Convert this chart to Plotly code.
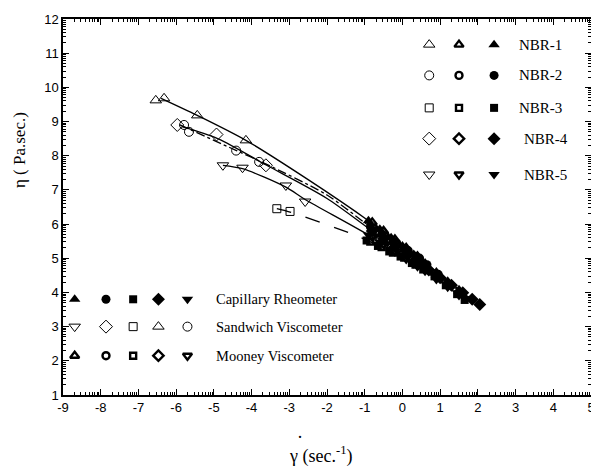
import math
import plotly.graph_objects as go

# ---------------- data (log shear rate, viscosity) ----------------
grades = ["NBR-1", "NBR-2", "NBR-3", "NBR-4", "NBR-5"]
symbols = ["triangle-up", "circle", "square", "diamond", "triangle-down"]

# Sandwich viscometer (open markers)
sand_x = {
    "NBR-1": [-6.54, -6.32, -5.44, -4.15],
    "NBR-2": [-5.79, -5.66, -4.41, -3.80],
    "NBR-3": [-3.33, -2.98],
    "NBR-4": [-5.97, -4.93, -3.62],
    "NBR-5": [-4.76, -4.24, -3.09, -2.58],
}
sand_y = {
    "NBR-1": [9.62, 9.68, 9.18, 8.45],
    "NBR-2": [8.90, 8.70, 8.15, 7.82],
    "NBR-3": [6.45, 6.37],
    "NBR-4": [8.90, 8.62, 7.72],
    "NBR-5": [7.72, 7.65, 7.13, 6.66],
}

# Mooney viscometer (bold open markers)
moon_x = {
    "NBR-1": [-0.80, -0.50, -0.20, 0.10, 0.40],
    "NBR-2": [-0.75, -0.45, -0.15, 0.15, 0.45],
    "NBR-3": [-0.85, -0.55, -0.25, 0.05, 0.35],
    "NBR-4": [-0.70, -0.40, -0.10, 0.20, 0.50],
    "NBR-5": [-0.80, -0.50, -0.20, 0.10, 0.40],
}
moon_y = {
    "NBR-1": [6.05, 5.80, 5.55, 5.30, 5.05],
    "NBR-2": [5.87, 5.65, 5.43, 5.22, 5.00],
    "NBR-3": [5.49, 5.33, 5.17, 5.02, 4.82],
    "NBR-4": [5.75, 5.52, 5.30, 5.07, 4.84],
    "NBR-5": [5.63, 5.42, 5.21, 4.99, 4.78],
}

# Capillary rheometer (filled markers)
cap_x = {
    "NBR-1": [-0.90, -0.60, -0.30, 0.00, 0.30, 0.60, 0.90, 1.20, 1.50],
    "NBR-2": [-0.85, -0.55, -0.25, 0.05, 0.35, 0.65, 0.95, 1.25, 1.55],
    "NBR-3": [-0.95, -0.65, -0.35, -0.05, 0.25, 0.55, 0.85, 1.15, 1.45, 1.65],
    "NBR-4": [-0.80, -0.50, -0.20, 0.10, 0.40, 0.70, 1.00, 1.30, 1.60, 1.85, 2.05],
    "NBR-5": [-0.90, -0.60, -0.30, 0.00, 0.30, 0.60, 0.90, 1.20, 1.50],
}
cap_y = {
    "NBR-1": [6.10, 5.85, 5.60, 5.36, 5.11, 4.86, 4.60, 4.33, 4.08],
    "NBR-2": [5.92, 5.70, 5.49, 5.27, 5.06, 4.81, 4.53, 4.24, 3.96],
    "NBR-3": [5.52, 5.36, 5.20, 5.05, 4.86, 4.67, 4.47, 4.21, 3.95, 3.78],
    "NBR-4": [5.80, 5.57, 5.34, 5.12, 4.88, 4.66, 4.43, 4.21, 3.99, 3.80, 3.65],
    "NBR-5": [5.68, 5.47, 5.26, 5.05, 4.84, 4.62, 4.38, 4.15, 3.91],
}

# Fitted curves
fit_x = {
    "NBR-1": [-6.40, -5.44, -4.15, -2.50, -0.90, 0.50, 1.60],
    "NBR-2": [-5.90, -4.40, -3.70, -2.00, -0.85, 0.50, 1.70],
    "NBR-3": [-3.33, -2.98, -1.20, 0.00, 0.75, 1.65],
    "NBR-4": [-5.85, -4.90, -3.60, -2.00, -0.80, 0.60, 2.05],
    "NBR-5": [-4.76, -4.24, -3.09, -2.58, -0.90, 0.50, 1.70],
}
fit_y = {
    "NBR-1": [9.68, 9.18, 8.45, 7.30, 6.10, 4.95, 4.00],
    "NBR-2": [8.90, 8.15, 7.80, 6.85, 5.92, 4.95, 3.82],
    "NBR-3": [6.45, 6.35, 5.65, 5.02, 4.55, 3.78],
    "NBR-4": [8.85, 8.50, 7.72, 6.75, 5.80, 4.73, 3.65],
    "NBR-5": [7.72, 7.62, 7.08, 6.72, 5.68, 4.70, 3.75],
}
fit_dash = {"NBR-1": "solid", "NBR-2": "dashdot", "NBR-3": "longdash",
            "NBR-4": "solid", "NBR-5": "solid"}

x_ticks = list(range(-9, 6))
y_ticks = list(range(1, 13))
x_title = "γ (sec.<sup>-1</sup>)"
y_title = "η ( Pa.sec.)"
methods = ["Capillary Rheometer", "Sandwich Viscometer", "Mooney Viscometer"]

# ---------------- key placement (data coordinates) ----------------
key_cols_x = [0.71, 1.50, 2.43]
key_rows_y = [11.25, 10.35, 9.40, 8.50, 7.45]
key_label_x = [3.04, 3.04, 3.04, 3.17, 3.17]
bkey_cols_x = [-8.69, -7.86, -7.14, -6.47, -5.70]
bkey_rows_y = [3.80, 3.00, 2.15]
bkey_label_x = -5.0
sandwich_key_order = ["NBR-5", "NBR-4", "NBR-3", "NBR-1", "NBR-2"]

sizes = {"triangle-up": 10, "circle": 9, "square": 8, "diamond": 10, "triangle-down": 10}


def marker(sym, kind):
    s = sizes[sym]
    if kind == "cap":
        return dict(symbol=sym, size=s, color="black", line=dict(width=0))
    if kind == "sand":
        return dict(symbol=sym + "-open", size=s, color="black", line=dict(width=1, color="black"))
    return dict(symbol=sym + "-open", size=s - 2, color="black", line=dict(width=2.4, color="black"))


fig = go.Figure()
sym_of = dict(zip(grades, symbols))

for g in grades:
    fig.add_trace(go.Scatter(x=fit_x[g], y=fit_y[g], mode="lines",
                             line=dict(color="black", width=1.3, dash=fit_dash[g], shape="spline", smoothing=0.8),
                             showlegend=False, hoverinfo="skip"))
for g in grades:
    fig.add_trace(go.Scatter(x=sand_x[g], y=sand_y[g], mode="markers",
                             marker=marker(sym_of[g], "sand"), name=g + " sandwich", showlegend=False))
for g in grades:
    fig.add_trace(go.Scatter(x=cap_x[g], y=cap_y[g], mode="markers",
                             marker=marker(sym_of[g], "cap"), name=g + " capillary", showlegend=False))
for g in grades:
    fig.add_trace(go.Scatter(x=moon_x[g], y=moon_y[g], mode="markers",
                             marker=marker(sym_of[g], "moon"), name=g + " Mooney", showlegend=False))

# top-right key
for i, g in enumerate(grades):
    for j, kind in enumerate(["sand", "moon", "cap"]):
        fig.add_trace(go.Scatter(x=[key_cols_x[j]], y=[key_rows_y[i]], mode="markers",
                                 marker=marker(sym_of[g], kind), showlegend=False, hoverinfo="skip"))
    fig.add_annotation(x=key_label_x[i], y=key_rows_y[i], text=g, showarrow=False,
                       xanchor="left", yanchor="middle",
                       font=dict(family="Liberation Serif", size=15, color="black"))

# bottom-left key
rows = [("cap", grades), ("sand", sandwich_key_order), ("moon", grades)]
for r, (kind, order) in enumerate(rows):
    for c, g in enumerate(order):
        fig.add_trace(go.Scatter(x=[bkey_cols_x[c]], y=[bkey_rows_y[r]], mode="markers",
                                 marker=marker(sym_of[g], kind), showlegend=False, hoverinfo="skip"))
    fig.add_annotation(x=bkey_label_x, y=bkey_rows_y[r], text=methods[r], showarrow=False,
                       xanchor="left", yanchor="middle",
                       font=dict(family="Liberation Serif", size=14.5, color="black"))

minor_x = [n + math.log10(k) for n in range(-9, 5) for k in range(2, 10)]
minor_y = [n + math.log10(k) for n in range(1, 12) for k in range(2, 10)]

axis_common = dict(showline=True, linecolor="black", linewidth=1.5, mirror="ticks",
                   ticks="inside", ticklen=6, tickwidth=1, tickcolor="black",
                   showgrid=False, zeroline=False,
                   tickfont=dict(family="Liberation Sans", size=13, color="black"))

fig.update_xaxes(range=[-9, 5], tickmode="array", tickvals=x_ticks,
                 ticktext=[str(v) for v in x_ticks],
                 minor=dict(tickmode="array", tickvals=minor_x, ticks="inside", ticklen=3,
                            tickwidth=1, tickcolor="black"),
                 **axis_common)
fig.update_yaxes(range=[1, 12], tickmode="array", tickvals=y_ticks,
                 ticktext=[str(v) for v in y_ticks],
                 minor=dict(tickmode="array", tickvals=minor_y, ticks="inside", ticklen=3,
                            tickwidth=1, tickcolor="black"),
                 **axis_common)

# axis titles
fig.add_annotation(xref="paper", yref="paper", x=0.488, y=-0.16, text=x_title, showarrow=False,
                   xanchor="center", yanchor="middle",
                   font=dict(family="Liberation Serif", size=18, color="black"))
fig.add_annotation(xref="paper", yref="paper", x=0.448, y=-0.111, text="·", showarrow=False,
                   xanchor="center", yanchor="middle",
                   font=dict(family="Liberation Serif", size=18, color="black"))
fig.add_annotation(xref="paper", yref="paper", x=-0.081, y=0.652, text=y_title, showarrow=False,
                   textangle=-90, xanchor="center", yanchor="middle",
                   font=dict(family="Liberation Serif", size=17, color="black"))

# page body has an 8 px margin, so the figure is 8 px smaller and the margins shifted
fig.update_layout(width=591, height=468, margin=dict(l=55, r=4, t=8, b=81),
                  plot_bgcolor="white", paper_bgcolor="white", showlegend=False)

fig.write_html("out.html")
